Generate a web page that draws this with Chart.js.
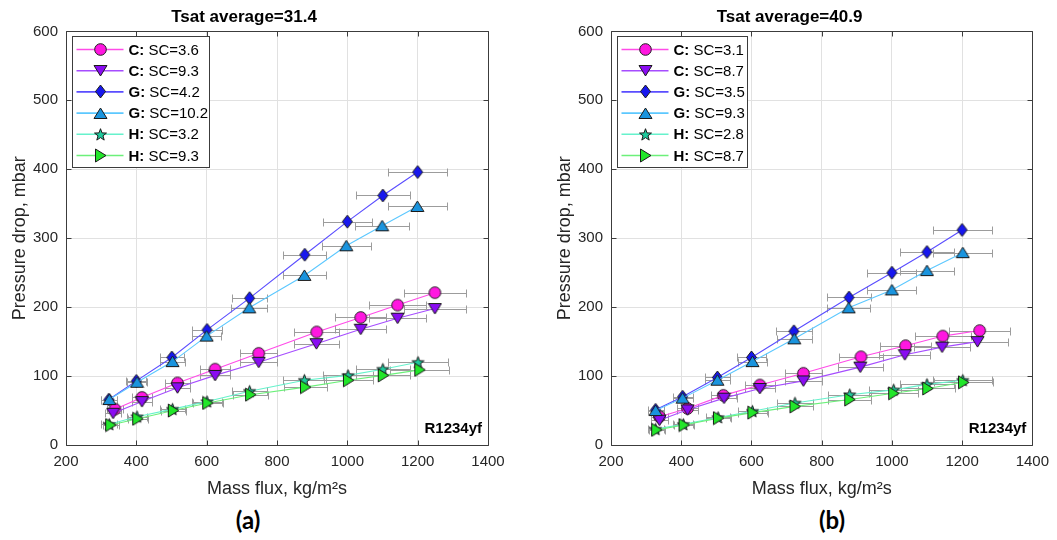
<!DOCTYPE html>
<html>
<head>
<meta charset="utf-8">
<script src="https://cdn.jsdelivr.net/npm/chart.js@4/dist/chart.umd.min.js"></script>
<style>
  html, body { margin: 0; padding: 0; background: #fff; }
  body { width: 1057px; height: 540px; position: relative; overflow: hidden; }
  canvas { position: absolute; top: 0; }
  #chartA { left: 0; }
  #chartB { left: 545px; }
  .panel-tag {
    position: absolute; top: 505px; width: 60px; text-align: center;
    font: bold 24px Lato, "Open Sans", sans-serif; color: #000; line-height: 30px;
  }
</style>
</head>
<body>
<canvas id="chartA" width="528" height="500"></canvas>
<canvas id="chartB" width="512" height="500"></canvas>
<div class="panel-tag" style="left:218px">(a)</div>
<div class="panel-tag" style="left:802px">(b)</div>

<script>
// ---- axis ticks ----
const massFluxTicks = [200, 400, 600, 800, 1000, 1200, 1400];
const pressureDropTicks = [0, 100, 200, 300, 400, 500, 600];

// ---- panel (a): Tsat average = 31.4 ----
const titleA = 'Tsat average=31.4';
const labelsA = ['SC=3.6', 'SC=9.3', 'SC=4.2', 'SC=10.2', 'SC=3.2', 'SC=9.3'];
const fluxA_C36  = [339, 416, 517, 624, 748, 913, 1038, 1143, 1249];
const dpA_C36    = [52, 69, 90, 110, 133, 164, 185, 203, 221];
const fluxA_C93  = [334, 416, 517, 624, 748, 912, 1038, 1143, 1249];
const dpA_C93    = [46, 63, 83, 101, 120, 147, 168, 184, 198];
const fluxA_G42  = [322, 400, 501, 601, 722, 879, 1000, 1101, 1200];
const dpA_G42    = [66, 93, 127, 167, 213, 276, 324, 362, 396];
const fluxA_G102 = [323, 402, 503, 600, 721, 878, 997, 1099, 1199];
const dpA_G102   = [66, 91, 121, 158, 199, 246, 289, 318, 346];
const fluxA_H32  = [323, 402, 503, 601, 722, 878, 1002, 1101, 1201];
const dpA_H32    = [30, 41, 52, 63, 78, 94, 101, 110, 120];
const fluxA_H93  = [327, 404, 505, 603, 725, 881, 1003, 1102, 1206];
const dpA_H93    = [29, 38, 50, 61, 73, 84, 94, 101, 109];

// ---- panel (b): Tsat average = 40.9 ----
const titleB = 'Tsat average=40.9';
const labelsB = ['SC=3.1', 'SC=8.7', 'SC=3.5', 'SC=9.3', 'SC=2.8', 'SC=8.7'];
const fluxB_C31 = [338, 418, 520, 624, 748, 912, 1039, 1145, 1250];
const dpB_C31   = [41, 53, 72, 87, 104, 128, 144, 158, 166];
const fluxB_C87 = [338, 418, 522, 624, 748, 910, 1037, 1143, 1244];
const dpB_C87   = [36, 51, 68, 82, 93, 113, 131, 142, 150];
const fluxB_G35 = [327, 404, 503, 600, 721, 878, 1000, 1100, 1200];
const dpB_G35   = [51, 70, 98, 127, 165, 214, 250, 280, 312];
const fluxB_G93 = [327, 404, 503, 603, 722, 877, 1000, 1100, 1202];
const dpB_G93   = [50, 68, 94, 121, 154, 199, 225, 253, 279];
const fluxB_H28 = [327, 406, 505, 603, 724, 880, 1005, 1100, 1202];
const dpB_H28   = [23, 30, 40, 49, 61, 73, 80, 88, 94];
const fluxB_H87 = [330, 408, 506, 604, 724, 880, 1005, 1102, 1204];
const dpB_H87   = [22, 29, 39, 47, 56, 66, 75, 82, 91];

// geometry groups shown in each legend row
const geometries = ['C:', 'C:', 'G:', 'G:', 'H:', 'H:'];
// relative uncertainty of the mass flux (horizontal error bars)
const massFluxUncertainty = 0.07;
const refrigerant = 'R1234yf';

// ---- styles ----
const FONT = '"Liberation Sans", Arial, Helvetica, sans-serif';
const TEXT = '#262626';
const seriesStyles = [
  { shape: 'circle', fill: '#ff17e0', line: '#ff4be8' },
  { shape: 'down',   fill: '#8a0cf2', line: '#a64dff' },
  { shape: 'diamond',fill: '#1717ee', line: '#5a4dff' },
  { shape: 'up',     fill: '#1a94de', line: '#5cc8ff' },
  { shape: 'star',   fill: '#1fc99c', line: '#66f2cc' },
  { shape: 'right',  fill: '#22e62a', line: '#6cf07a' }
];

function makeMarker(shape, fill) {
  const c = document.createElement('canvas');
  const s = 15; c.width = s; c.height = s;
  const g = c.getContext('2d');
  const m = s / 2;
  g.beginPath();
  if (shape === 'circle') {
    g.arc(m, m, 5.8, 0, Math.PI * 2);
  } else if (shape === 'down') {
    g.moveTo(m - 6.5, m - 5); g.lineTo(m + 6.5, m - 5); g.lineTo(m, m + 5.5);
  } else if (shape === 'up') {
    g.moveTo(m - 6.5, m + 5); g.lineTo(m + 6.5, m + 5); g.lineTo(m, m - 5.5);
  } else if (shape === 'right') {
    g.moveTo(m - 5, m - 6.5); g.lineTo(m - 5, m + 6.5); g.lineTo(m + 5.5, m);
  } else if (shape === 'diamond') {
    g.moveTo(m, m - 6.5); g.lineTo(m + 5, m); g.lineTo(m, m + 6.5); g.lineTo(m - 5, m);
  } else if (shape === 'star') {
    for (let i = 0; i < 10; i++) {
      const r = i % 2 === 0 ? 6.3 : 2.6;
      const a = -Math.PI / 2 + i * Math.PI / 5;
      const px = m + r * Math.cos(a), py = m + 0.5 + r * Math.sin(a);
      if (i === 0) g.moveTo(px, py); else g.lineTo(px, py);
    }
  }
  g.closePath();
  g.fillStyle = fill; g.fill();
  g.lineWidth = 1; g.strokeStyle = '#1a1a1a'; g.stroke();
  return c;
}
const markers = seriesStyles.map(s => makeMarker(s.shape, s.fill));

function pairs(xs, ys) { return xs.map((x, i) => ({ x: x, y: ys[i] })); }

function buildDatasets(seriesList) {
  return seriesList.map((d, i) => ({
    data: pairs(d[0], d[1]),
    showLine: true,
    borderColor: seriesStyles[i].line,
    borderWidth: 1.1,
    backgroundColor: seriesStyles[i].fill,
    pointStyle: markers[i],
    pointRadius: 6,
    pointHoverRadius: 6,
    tension: 0,
    order: seriesList.length - i
  }));
}

// axes frame with inward tick marks on all four sides
const axesFrame = {
  id: 'axesFrame',
  beforeDatasetsDraw(chart) {
    const { ctx, chartArea: a, scales: { x, y } } = chart;
    ctx.save();
    ctx.strokeStyle = '#3c3c3c';
    ctx.lineWidth = 1;
    const L = Math.round(a.left) + 0.5, R = Math.round(a.right) + 0.5;
    const T = Math.round(a.top) + 0.5, B = Math.round(a.bottom) + 0.5;
    ctx.beginPath();
    ctx.rect(L, T, R - L, B - T);
    const tl = 5;
    massFluxTicks.forEach(v => {
      const px = Math.round(x.getPixelForValue(v)) + 0.5;
      ctx.moveTo(px, B); ctx.lineTo(px, B - tl);
      ctx.moveTo(px, T); ctx.lineTo(px, T + tl);
    });
    pressureDropTicks.forEach(v => {
      const py = Math.round(y.getPixelForValue(v)) + 0.5;
      ctx.moveTo(L, py); ctx.lineTo(L + tl, py);
      ctx.moveTo(R, py); ctx.lineTo(R - tl, py);
    });
    ctx.stroke();
    ctx.restore();
  }
};

// horizontal error bars on mass flux
const errorBars = {
  id: 'errorBars',
  beforeDatasetsDraw(chart) {
    const { ctx, scales: { x, y } } = chart;
    ctx.save();
    ctx.strokeStyle = '#9c9c9c';
    ctx.lineWidth = 1;
    chart.data.datasets.forEach(ds => {
      ds.data.forEach(p => {
        const e = p.x * massFluxUncertainty;
        const x0 = Math.round(x.getPixelForValue(p.x - e)) + 0.5;
        const x1 = Math.round(x.getPixelForValue(p.x + e)) + 0.5;
        const py = Math.round(y.getPixelForValue(p.y)) + 0.5;
        ctx.beginPath();
        ctx.moveTo(x0, py); ctx.lineTo(x1, py);
        ctx.moveTo(x0, py - 4); ctx.lineTo(x0, py + 4);
        ctx.moveTo(x1, py - 4); ctx.lineTo(x1, py + 4);
        ctx.stroke();
      });
    });
    ctx.restore();
  }
};

// refrigerant tag in the lower right corner
const fluidTag = {
  id: 'fluidTag',
  afterDatasetsDraw(chart) {
    const { ctx, chartArea: a } = chart;
    ctx.save();
    ctx.font = 'bold 15px ' + FONT;
    ctx.fillStyle = '#000';
    ctx.textAlign = 'right';
    ctx.textBaseline = 'alphabetic';
    ctx.fillText(refrigerant, a.right - 6, a.bottom - 12);
    ctx.restore();
  }
};

// boxed legend: line sample, marker, bold geometry name and subcooling
const boxLegend = {
  id: 'boxLegend',
  afterDraw(chart, args, opts) {
    const { ctx, chartArea: a } = chart;
    const bx = Math.round(a.left + 6) + 0.5, by = Math.round(a.top + 5) + 0.5;
    const w = opts.width, h = 131, rowH = 21.2;
    ctx.save();
    ctx.fillStyle = '#fff';
    ctx.fillRect(bx, by, w, h);
    ctx.strokeStyle = '#3c3c3c';
    ctx.lineWidth = 1;
    ctx.strokeRect(bx, by, w, h);
    ctx.textBaseline = 'middle';
    opts.labels.forEach((lab, i) => {
      const cy = by + 13 + i * rowH;
      ctx.strokeStyle = seriesStyles[i].line;
      ctx.lineWidth = 1.6;
      ctx.beginPath();
      ctx.moveTo(bx + 4, cy); ctx.lineTo(bx + 51, cy);
      ctx.stroke();
      const mk = markers[i];
      ctx.drawImage(mk, Math.round(bx + 28 - mk.width / 2), Math.round(cy - mk.height / 2));
      ctx.fillStyle = '#000';
      ctx.font = 'bold 15px ' + FONT;
      const g = geometries[i];
      ctx.fillText(g, bx + 56, cy + 1);
      const gw = ctx.measureText(g).width;
      ctx.font = '15px ' + FONT;
      ctx.fillText(' ' + lab, bx + 56 + gw, cy + 1);
    });
    ctx.restore();
  }
};

function makeChart(id, title, seriesList, labels, rightPad, legendWidth) {
  return new Chart(document.getElementById(id), {
    type: 'scatter',
    data: { datasets: buildDatasets(seriesList) },
    plugins: [axesFrame, errorBars, fluidTag, boxLegend],
    options: {
      responsive: false,
      animation: false,
      devicePixelRatio: 1,
      events: [],
      layout: { padding: { left: 0, right: rightPad, top: 0, bottom: 0 } },
      plugins: {
        legend: { display: false },
        tooltip: { enabled: false },
        title: {
          display: true, text: title, color: '#000',
          font: { family: FONT, size: 17, weight: 'bold' },
          padding: { top: 7, bottom: 4 }
        },
        boxLegend: { labels: labels, width: legendWidth }
      },
      scales: {
        x: {
          type: 'linear', min: massFluxTicks[0], max: massFluxTicks[massFluxTicks.length - 1],
          afterBuildTicks: s => { s.ticks = massFluxTicks.map(v => ({ value: v })); },
          ticks: {
            color: TEXT, font: { family: FONT, size: 15 }, padding: 8, maxRotation: 0, autoSkip: false,
            callback: v => String(v)
          },
          grid: { color: '#e1e1e1', drawTicks: false },
          border: { display: false },
          title: {
            display: true, text: 'Mass flux, kg/m²s', color: TEXT,
            font: { family: FONT, size: 18 }, padding: { top: 0, bottom: 0 }
          },
          afterFit: s => { s.height = 55; }
        },
        y: {
          type: 'linear', min: pressureDropTicks[0], max: pressureDropTicks[pressureDropTicks.length - 1],
          afterBuildTicks: s => { s.ticks = pressureDropTicks.map(v => ({ value: v })); },
          ticks: { color: TEXT, font: { family: FONT, size: 15 }, padding: 8, callback: v => String(v) },
          grid: { color: '#e1e1e1', drawTicks: false },
          border: { display: false },
          title: {
            display: true, text: 'Pressure drop, mbar', color: TEXT,
            font: { family: FONT, size: 18 }, padding: { top: 9, bottom: 0 }
          },
          afterFit: s => { s.width = 66; }
        }
      }
    }
  });
}

makeChart('chartA', titleA, [
  [fluxA_C36, dpA_C36], [fluxA_C93, dpA_C93], [fluxA_G42, dpA_G42],
  [fluxA_G102, dpA_G102], [fluxA_H32, dpA_H32], [fluxA_H93, dpA_H93]
], labelsA, 40, 137);

makeChart('chartB', titleB, [
  [fluxB_C31, dpB_C31], [fluxB_C87, dpB_C87], [fluxB_G35, dpB_G35],
  [fluxB_G93, dpB_G93], [fluxB_H28, dpB_H28], [fluxB_H87, dpB_H87]
], labelsB, 23, 130);
</script>
</body>
</html>
